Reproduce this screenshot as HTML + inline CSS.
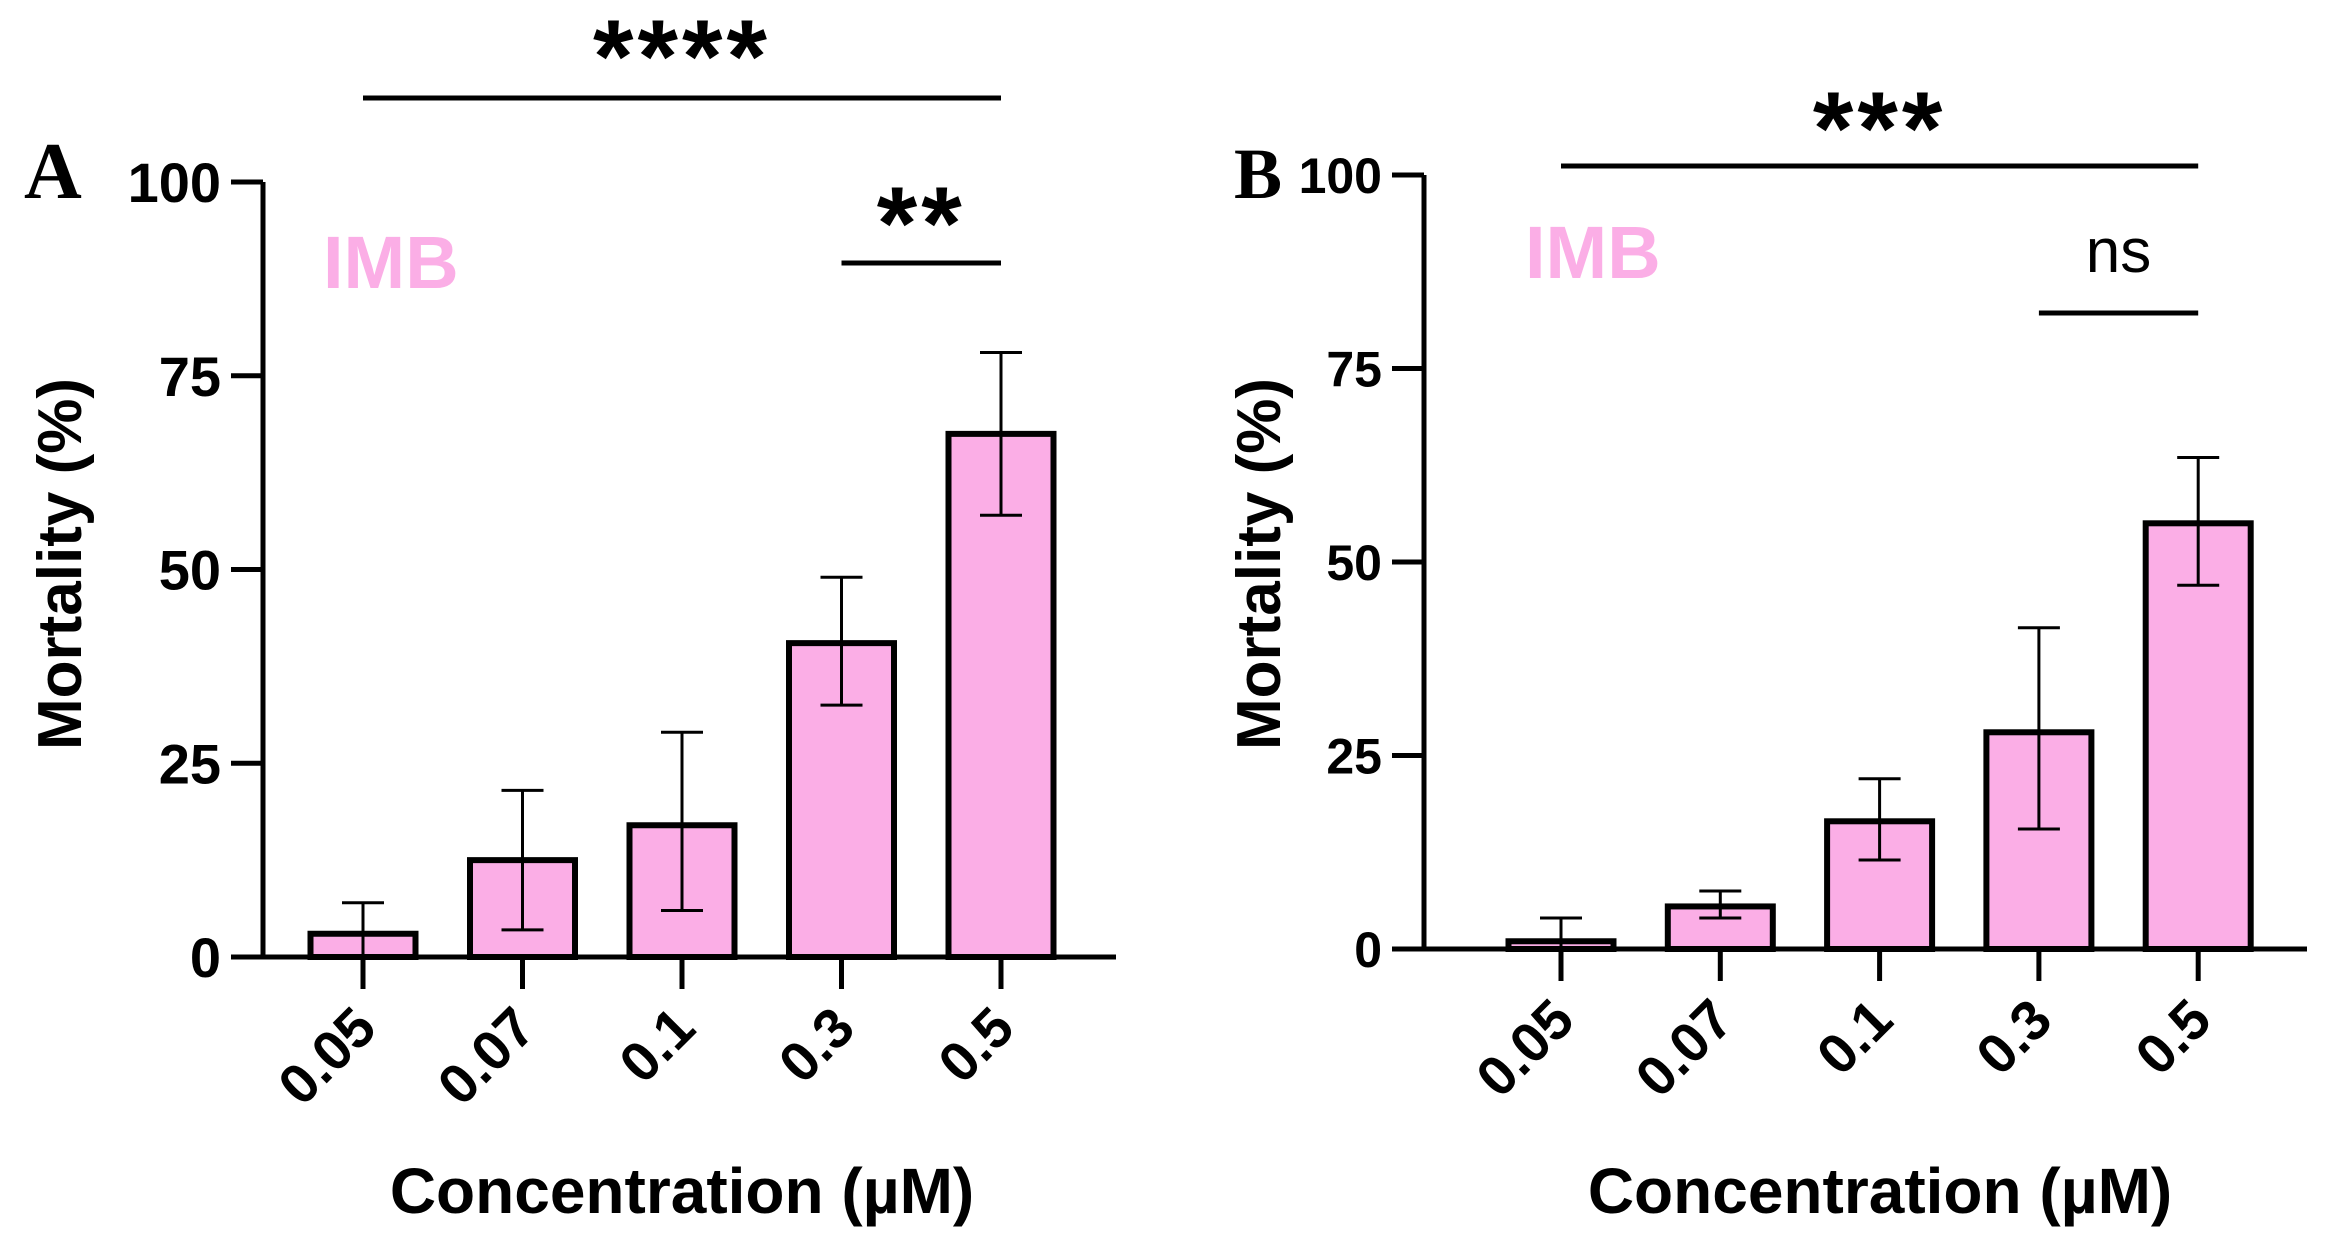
<!DOCTYPE html>
<html><head><meta charset="utf-8"><style>
body{margin:0;background:#fff;}
svg{display:block;font-family:"Liberation Sans",Arial,sans-serif;}
</style></head><body>
<svg id="chart" width="2326" height="1253" viewBox="0 0 2326 1253"></svg>
<script>
const categories = ["0.05","0.07","0.1","0.3","0.5"];
const yTicks = [0,25,50,75,100];
const meansA = [3,12.5,17,40.5,67.5];
const lowA = [0,3.5,6,32.5,57];
const highA = [7,21.5,29,49,78];
const meansB = [1,5.5,16.5,28,55];
const lowB = [0,4,11.5,15.5,47];
const highB = [4,7.5,22,41.5,63.5];

const NS="http://www.w3.org/2000/svg";
const svg=document.getElementById('chart');
function el(tag,attrs,parent){const e=document.createElementNS(NS,tag);for(const k in attrs)e.setAttribute(k,attrs[k]);(parent||svg).appendChild(e);return e;}

const panels=[
 {id:'a',letter:'A',means:meansA,low:lowA,high:highA,x0:263,x1:1116,y0:957,y100:182,c0:363,dc:159.5,bw:105,
  letterX:24,letterY:198,lsize:80,yfs:56,imbX:323,imbY:288,sig1:{y:98,from:0,to:4,label:'****',ly:44},sig2:{y:263,from:3,to:4,label:'**',ly:211},
  ytx:59,yty:564,xtx:682,xty:1213},
 {id:'b',letter:'B',means:meansB,low:lowB,high:highB,x0:1424,x1:2307,y0:949,y100:175,c0:1561,dc:159.3,bw:105,
  letterX:1234,letterY:198,lsize:72,yfs:50,imbX:1525,imbY:278,sig1:{y:166,from:0,to:4,label:'***',ly:116},sig2:{y:313,from:3,to:4,label:'ns',ly:272},
  ytx:1258,yty:564,xtx:1880,xty:1213}
];

panels.forEach(p=>{
  const g=el('g',{});
  
  
  const yS=v=>p.y0+(p.y100-p.y0)*v/100;
  const xS=i=>p.c0+p.dc*i;
  const L=el('text',{x:p.letterX,y:p.letterY,'font-family':'Liberation Serif, serif','font-weight':'bold','font-size':p.lsize,fill:'#000'},g);
  L.textContent=p.letter;
  
  
  const imb=el('text',{x:p.imbX,y:p.imbY,'font-weight':'bold','font-size':74,fill:'#fbaee6'},g);
  imb.textContent='IMB';
  
  
  p.means.forEach((m,i)=>{
    const cx=xS(i);
    const r=el('rect',{x:cx-p.bw/2,y:yS(m),width:p.bw,height:p.y0-yS(m),fill:'#fbaee6',stroke:'#000','stroke-width':6},g);
    
    
    const e=el('path',{d:`M${cx},${yS(p.low[i])}V${yS(p.high[i])}M${cx-21},${yS(p.high[i])}H${cx+21}M${cx-21},${yS(p.low[i])}H${cx+21}`,stroke:'#000','stroke-width':3,fill:'none'},g);
    
    
  });
  const ya=el('path',{d:`M${p.x0},${p.y0+2}V${p.y100}`,stroke:'#000','stroke-width':5,fill:'none'},g);
  
  
  const xa=el('path',{d:`M${p.x0-2},${p.y0}H${p.x1}`,stroke:'#000','stroke-width':5,fill:'none'},g);
  
  
  yTicks.forEach(t=>{
    const y=yS(t);
    el('path',{d:`M${p.x0-32},${y}H${p.x0}`,stroke:'#000','stroke-width':5},g);
    const tx=el('text',{x:p.x0-42,y:y+p.yfs*0.36,'text-anchor':'end','font-weight':'bold','font-size':p.yfs,fill:'#000'},g);
    tx.textContent=t;
    
    
  });
  categories.forEach((c,i)=>{
    const x=xS(i);
    el('path',{d:`M${x},${p.y0}V${p.y0+32}`,stroke:'#000','stroke-width':5},g);
    const tx=el('text',{x:x+16,y:p.y0+74,'text-anchor':'end','font-weight':'bold','font-size':56,fill:'#000',transform:`rotate(-45 ${x+16} ${p.y0+74})`},g);
    tx.textContent=c;
    
    
  });
  const yt=el('text',{x:p.ytx,y:p.yty,'text-anchor':'middle','font-weight':'bold','font-size':62,fill:'#000',transform:`rotate(-90 ${p.ytx} ${p.yty})`,dy:22},g);
  yt.textContent='Mortality (%)';
  
  
  const xt=el('text',{x:p.xtx,y:p.xty,'text-anchor':'middle','font-weight':'bold','font-size':64,fill:'#000'},g);
  xt.textContent='Concentration (\u00b5M)';
  
  
  [p.sig1,p.sig2].forEach((s,k)=>{
    const a=xS(s.from),b=xS(s.to);
    const ln=el('path',{d:`M${a},${s.y}H${b}`,stroke:'#000','stroke-width':5},g);
    
    
    const isNs=s.label==='ns';
    const st=el('text',{x:(a+b)/2,y:s.ly+(isNs?0:48),'text-anchor':'middle','font-weight':isNs?'normal':'bold','font-size':isNs?62:104,'letter-spacing':isNs?0:4,fill:'#000'},g);
    st.textContent=s.label;
    
    
  });
});
</script>
</body></html>
